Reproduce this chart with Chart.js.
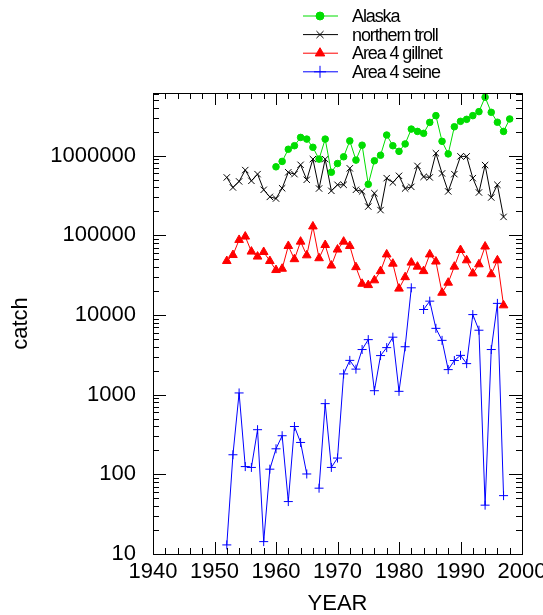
<!DOCTYPE html>
<html>
<head>
<meta charset="utf-8">
<script src="https://cdn.jsdelivr.net/npm/chart.js@4/dist/chart.umd.min.js"></script>
<style>
html,body{margin:0;padding:0;background:#fff;}
canvas{display:block;}
</style>
</head>
<body>
<canvas id="c" width="543" height="615"></canvas>
<script>
// ---- data ----
const seriesNames = ["Alaska", "northern troll", "Area 4 gillnet", "Area 4 seine"];

const yearsAlaska = [1960,1961,1962,1963,1964,1965,1966,1967,1968,1969,1970,1971,1972,1973,1974,1975,1976,1977,1978,1979,1980,1981,1982,1983,1984,1985,1986,1987,1988,1989,1990,1991,1992,1993,1994,1995,1996,1997,1998];
const alaska = [723000,845000,1200000,1330000,1690000,1610000,1270000,903000,1610000,617000,795000,966000,1530000,877000,1350000,436000,861000,1010000,1810000,1330000,1130000,1400000,2150000,2010000,1900000,2610000,3170000,1510000,1050000,2300000,2690000,2850000,3170000,3560000,5400000,3490000,2620000,2010000,2880000];

const yearsArea = [1952,1953,1954,1955,1956,1957,1958,1959,1960,1961,1962,1963,1964,1965,1966,1967,1968,1969,1970,1971,1972,1973,1974,1975,1976,1977,1978,1979,1980,1981,1982,1983,1984,1985,1986,1987,1988,1989,1990,1991,1992,1993,1994,1995,1996,1997];
const northernTroll = [532000,398000,474000,658000,482000,585000,372000,303000,289000,389000,617000,585000,766000,497000,903000,386000,903000,361000,430000,430000,692000,372000,355000,229000,337000,207000,521000,460000,557000,386000,405000,742000,541000,532000,1070000,597000,355000,585000,977000,977000,521000,344000,760000,298000,430000,170000];
const area4Gillnet = [47500,56500,87400,96300,62400,54000,61700,47500,36600,38000,73400,50100,83200,56000,129000,51500,75500,41700,66200,83200,73400,39800,24600,23700,27200,35500,57500,44000,21400,29800,45400,40400,35500,57500,46800,19000,25400,40400,65300,48500,33200,43200,72200,32400,48500,13200];
const area4Seine = [13,176,1050,125,122,363,14.3,116,209,305,45.5,398,251,101,null,67,771,122,160,1820,2690,2090,3680,4900,1120,3090,3890,5260,1100,3990,21900,null,11700,14900,6790,4800,2060,2680,3110,2450,10100,6430,41,3680,13970,54];

const xTickValues = [1940,1950,1960,1970,1980,1990,2000];
const yTickValues = [10,100,1000,10000,100000,1000000];

// ---- build ----
const pts = (xs, ys) => xs.map((x, i) => ({x: x, y: ys[i]}));
const FONT = "'Liberation Sans', Arial, sans-serif";

const insideTicks = {
  id: 'insideTicks',
  afterDraw(chart) {
    const ctx = chart.ctx, a = chart.chartArea;
    const xs = chart.scales.x, ys = chart.scales.y;
    ctx.save();
    ctx.strokeStyle = '#000';
    ctx.lineWidth = 1;
    ctx.beginPath();
    ctx.rect(Math.round(a.left) + 0.5, Math.round(a.top) + 0.5, Math.round(a.right - a.left), Math.round(a.bottom - a.top));
    ctx.stroke();
    ctx.beginPath();
    // x ticks every 2 years
    for (let v = xs.min; v <= xs.max; v += 2) {
      const px = Math.round(xs.getPixelForValue(v)) + 0.5;
      const len = (v % 10 === 0) ? 12 : 6;
      ctx.moveTo(px, a.bottom); ctx.lineTo(px, a.bottom - len);
      ctx.moveTo(px, a.top); ctx.lineTo(px, a.top + len);
    }
    // y log ticks
    for (let d = 10; d <= ys.max; d *= 10) {
      for (let m = 1; m <= 9; m++) {
        const v = d * m;
        if (v > ys.max) break;
        const py = Math.round(ys.getPixelForValue(v)) + 0.5;
        const len = (m === 1) ? 13 : 6;
        ctx.moveTo(a.left, py); ctx.lineTo(a.left + len, py);
        ctx.moveTo(a.right, py); ctx.lineTo(a.right - len, py);
      }
    }
    ctx.stroke();
    ctx.restore();
  }
};

const customLegend = {
  id: 'customLegend',
  afterDraw(chart) {
    const ctx = chart.ctx;
    ctx.save();
    chart.data.datasets.forEach((ds, i) => {
      const y = 16 + i * 18.6;
      ctx.strokeStyle = ds.borderColor;
      ctx.fillStyle = ds.backgroundColor;
      ctx.lineWidth = 1;
      ctx.beginPath();
      ctx.moveTo(303, y); ctx.lineTo(338, y);
      ctx.stroke();
      Chart.helpers.drawPoint(ctx, {pointStyle: ds.pointStyle, radius: ds.legendRadius, borderWidth: 1, rotation: 0}, 320, y);
      ctx.fillStyle = '#000';
      ctx.font = "18px " + FONT;
      if ('letterSpacing' in ctx) ctx.letterSpacing = '-1.1px';
      ctx.textBaseline = 'middle';
      ctx.textAlign = 'left';
      ctx.fillText(ds.label, 352, y + 1);
      if ('letterSpacing' in ctx) ctx.letterSpacing = '0px';
    });
    ctx.restore();
  }
};

new Chart(document.getElementById('c'), {
  type: 'line',
  data: {
    datasets: [
      {label: seriesNames[0], data: pts(yearsAlaska, alaska), borderColor: '#00dd00', backgroundColor: '#00dd00',
       pointStyle: 'circle', pointRadius: 3.3, legendRadius: 4, borderWidth: 1, pointBorderWidth: 1},
      {label: seriesNames[1], data: pts(yearsArea, northernTroll), borderColor: '#000000', backgroundColor: '#000000',
       pointStyle: 'crossRot', pointRadius: 4.5, legendRadius: 5, borderWidth: 1, pointBorderWidth: 1},
      {label: seriesNames[2], data: pts(yearsArea, area4Gillnet), borderColor: '#ff0000', backgroundColor: '#ff0000',
       pointStyle: 'triangle', pointRadius: 5, legendRadius: 5.5, borderWidth: 1, pointBorderWidth: 1},
      {label: seriesNames[3], data: pts(yearsArea, area4Seine), borderColor: '#0000ff', backgroundColor: '#0000ff',
       pointStyle: 'cross', pointRadius: 4.5, legendRadius: 6, borderWidth: 1, pointBorderWidth: 1, spanGaps: false}
    ]
  },
  options: {
    responsive: false,
    animation: false,
    devicePixelRatio: 1,
    layout: {padding: {top: 93, right: 21, left: 0, bottom: 0}},
    elements: {line: {tension: 0}},
    plugins: {legend: {display: false}, tooltip: {enabled: false}},
    scales: {
      x: {
        type: 'linear', min: 1940, max: 2000,
        afterBuildTicks: (s) => { s.ticks = xTickValues.map(v => ({value: v})); },
        afterFit: (s) => { s.height = 61; s.paddingLeft = 0; s.paddingRight = 0; },
        ticks: {color: '#000', font: {family: FONT, size: 22}, padding: 5, maxRotation: 0, autoSkip: false,
                callback: (v) => String(v)},
        grid: {display: true, drawOnChartArea: false, drawTicks: false},
        border: {display: true, color: '#000', width: 1},
        title: {display: true, text: 'YEAR', color: '#000', font: {family: FONT, size: 22, lineHeight: 1}, padding: {top: 0, bottom: 0}}
      },
      y: {
        type: 'logarithmic', min: 10, max: 6100000,
        afterBuildTicks: (s) => { s.ticks = yTickValues.map(v => ({value: v})); },
        afterFit: (s) => { s.width = 153; s.paddingTop = 0; s.paddingBottom = 0; },
        ticks: {color: '#000', font: {family: FONT, size: 22}, padding: 17, autoSkip: false,
                callback: (v) => String(v)},
        grid: {display: true, drawOnChartArea: false, drawTicks: false},
        border: {display: true, color: '#000', width: 1},
        title: {display: true, text: 'catch', color: '#000', font: {family: FONT, size: 22, lineHeight: 1.2}, padding: {top: 8, bottom: 0}}
      }
    }
  },
  plugins: [insideTicks, customLegend]
});
</script>
</body>
</html>
